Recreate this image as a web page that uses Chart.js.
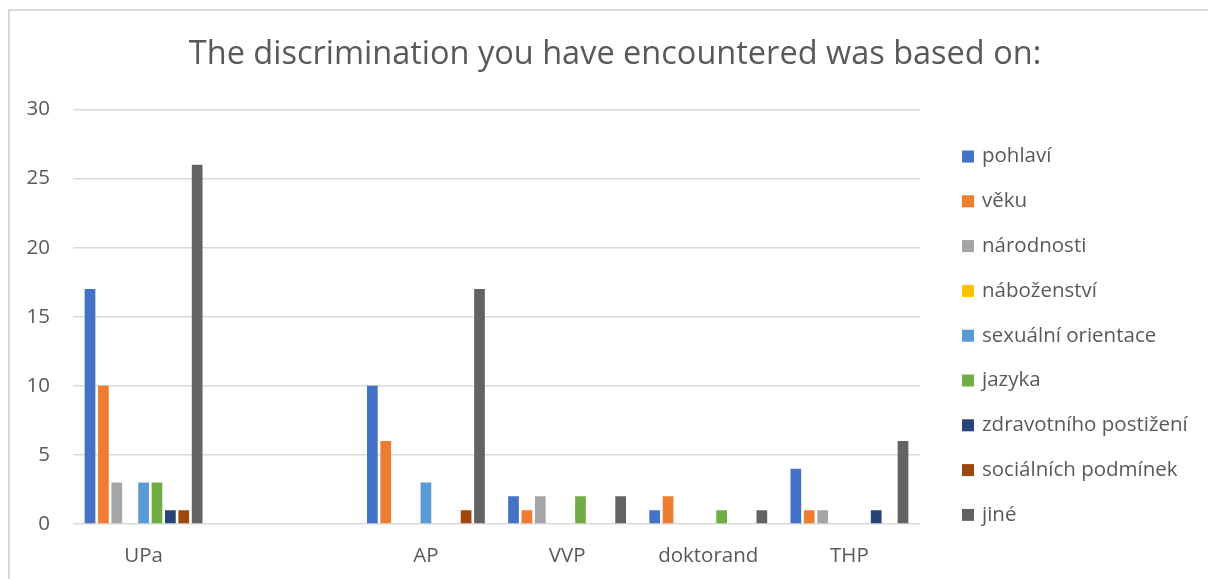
<!DOCTYPE html>
<html>
<head>
<meta charset="utf-8">
<script src="https://cdn.jsdelivr.net/npm/chart.js@4/dist/chart.umd.min.js"></script>
<style>
  html, body { margin: 0; padding: 0; background: #fff; }
  #wrap { position: relative; width: 1208px; height: 579px; }
  #frame { position: absolute; left: 8px; top: 9px; right: -4px; bottom: -4px;
           border-left: 2px solid #d9d9d9; border-top: 2px solid #d9d9d9; }
  canvas { position: absolute; left: 0; top: 0; }
</style>
</head>
<body>
<div id="wrap">
  <div id="frame"></div>
  <canvas id="chart" width="1208" height="579"></canvas>
</div>
<script>
// categories (second one is an empty group in the original sheet)
const categories = ['UPa', '', 'AP', 'VVP', 'doktorand', 'THP'];

const seriesNames = ['pohlaví', 'věku', 'národnosti', 'náboženství', 'sexuální orientace',
                     'jazyka', 'zdravotního postižení', 'sociálních podmínek', 'jiné'];
const seriesColors = ['#4472C4', '#ED7D31', '#A5A5A5', '#FFC000', '#5B9BD5',
                      '#70AD47', '#264478', '#9E480E', '#636363'];

const pohlavi      = [17, 0, 10, 2, 1, 4];
const veku         = [10, 0, 6, 1, 2, 1];
const narodnosti   = [3, 0, 0, 2, 0, 1];
const nabozenstvi  = [0, 0, 0, 0, 0, 0];
const sexualni     = [3, 0, 3, 0, 0, 0];
const jazyka       = [3, 0, 0, 2, 1, 0];
const zdravotniho  = [1, 0, 0, 0, 0, 1];
const socialnich   = [1, 0, 1, 0, 0, 0];
const jine         = [26, 0, 17, 2, 1, 6];

const yTicks = { min: 0, max: 30, step: 5 };

const seriesValues = [pohlavi, veku, narodnosti, nabozenstvi, sexualni,
                      jazyka, zdravotniho, socialnich, jine];

const FONT = '"Open Sans", "Noto Sans", sans-serif';
const TEXT = '#595959';

// legend drawn to the right of the plot, like the Excel one
const sideLegend = {
    id: 'sideLegend',
    afterDraw(chart) {
        const ctx = chart.ctx;
        const area = chart.chartArea;
        ctx.save();
        ctx.font = '20.5px ' + FONT;
        ctx.textBaseline = 'middle';
        ctx.textAlign = 'left';
        chart.data.datasets.forEach((ds, i) => {
            const y = area.top + 47 + i * 44.8;
            ctx.fillStyle = ds.backgroundColor;
            ctx.fillRect(area.right + 42, y - 6, 12, 12);
            ctx.fillStyle = TEXT;
            ctx.fillText(ds.label, area.right + 62, y);
        });
        ctx.restore();
    }
};

new Chart(document.getElementById('chart'), {
    type: 'bar',
    data: {
        labels: categories,
        datasets: seriesNames.map((name, i) => ({
            label: name,
            data: seriesValues[i],
            backgroundColor: seriesColors[i],
            borderWidth: 0,
            categoryPercentage: 0.854,
            barPercentage: 0.8
        }))
    },
    options: {
        responsive: false,
        animation: false,
        layout: { padding: { left: 22, right: 0, top: 0, bottom: 0 } },
        plugins: {
            legend: { display: false },
            tooltip: { enabled: false },
            title: {
                display: true,
                text: 'The discrimination you have encountered was based on:',
                color: TEXT,
                font: { family: FONT, size: 32.5, weight: 'normal' },
                padding: { top: 35, bottom: 35.5 }
            }
        },
        scales: {
            x: {
                grid: { display: false },
                border: { display: false },
                ticks: { color: TEXT, font: { family: FONT, size: 20.5 }, padding: 12 },
                afterFit(s) { s.height = 55; }
            },
            y: {
                min: yTicks.min,
                max: yTicks.max,
                ticks: { stepSize: yTicks.step, color: TEXT, font: { family: FONT, size: 20.5 }, padding: 23 },
                grid: { color: '#d9d9d9', lineWidth: 1.5, drawTicks: false },
                border: { display: false },
                afterFit(s) { s.width = 51; }
            },
            // empty axis that only reserves room for the legend
            yRoom: {
                position: 'right',
                display: true,
                grid: { display: false },
                border: { display: false },
                ticks: { display: false },
                afterFit(s) { s.width = 288; }
            }
        }
    },
    plugins: [sideLegend]
});
</script>
</body>
</html>
